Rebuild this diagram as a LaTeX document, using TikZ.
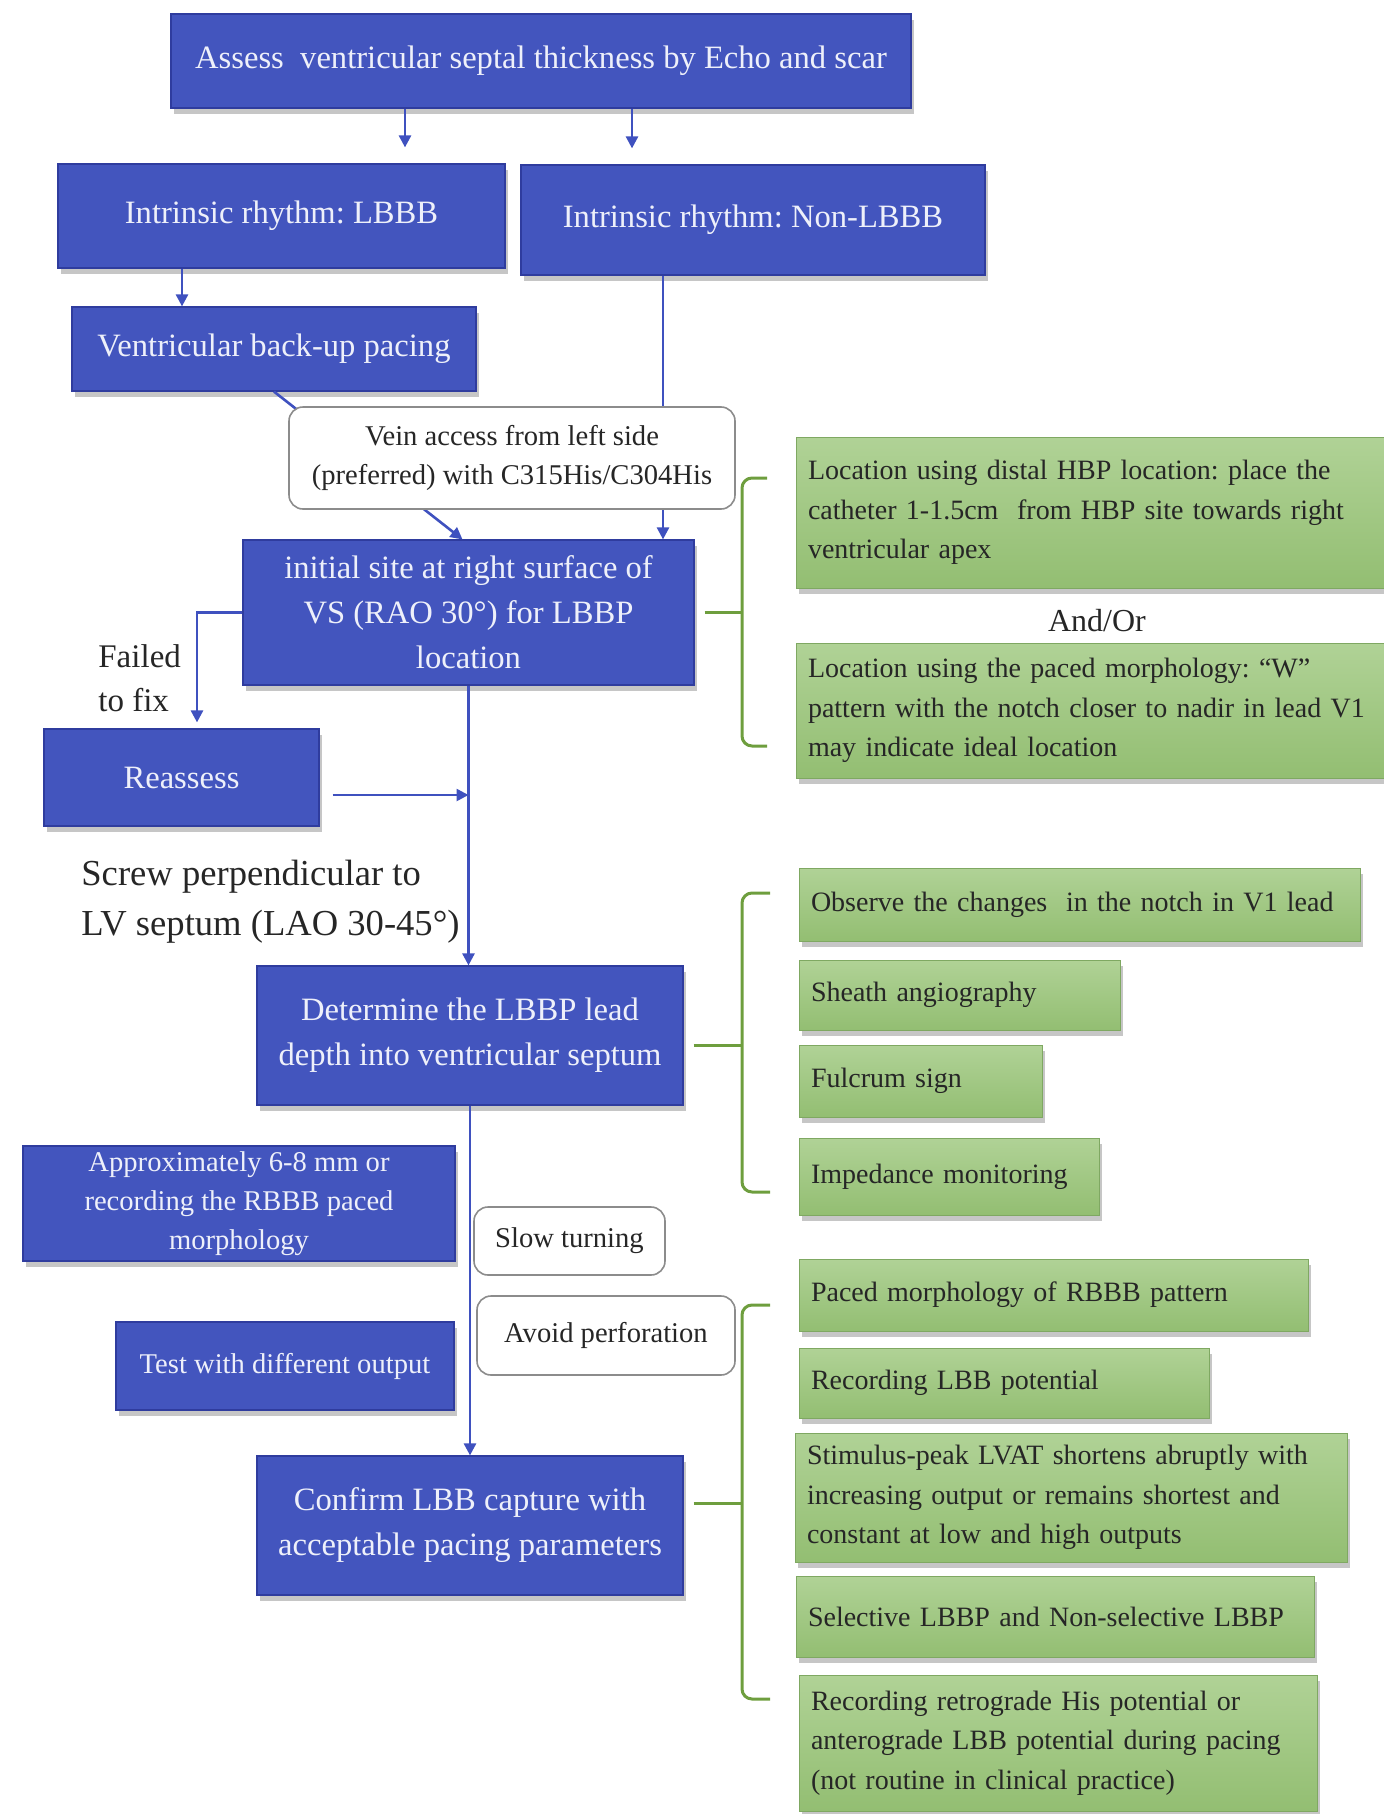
\documentclass[tikz,border=0pt]{standalone}
\usepackage{fontspec}
\setmainfont{Liberation Serif}
\frenchspacing
\usepackage{tikz}
\usetikzlibrary{calc,arrows.meta,positioning,shadows}
\definecolor{boxc}{HTML}{4355BE}
\definecolor{boxd}{HTML}{2F3C9E}
\definecolor{linec}{HTML}{3F51BF}
\definecolor{txtc}{HTML}{EEF0FA}
\definecolor{grnt}{HTML}{B0D296}
\definecolor{grnb}{HTML}{93BE72}
\definecolor{grnd}{HTML}{7FA862}
\definecolor{brc}{HTML}{6E9E3E}
\definecolor{wbd}{HTML}{8C8C8C}
\tikzset{
  ar/.style={-{Triangle[length=6pt,width=6pt]},line width=1.3pt,linec},
  br/.style={line width=1.5pt,brc},
  bx/.style={draw=boxd,line width=0.6pt,fill=boxc,text=txtc,align=center,inner sep=2pt,
    font=\fontsize{16.3}{22.5}\selectfont,
    drop shadow={shadow xshift=1.5pt,shadow yshift=-3pt,opacity=0.45}},
  wbx/.style={draw=wbd,line width=0.8pt,fill=white,rounded corners=7pt,align=center,inner sep=2pt,
    text=black!85,font=\fontsize{14.3}{19.7}\selectfont},
  gbx/.style={draw=grnd,line width=0.5pt,top color=grnt,bottom color=grnb,align=left,
    inner xsep=6pt,inner ysep=2pt,text=black!85,font=\fontsize{14}{19.7}\selectfont,
    drop shadow={shadow xshift=1.5pt,shadow yshift=-3pt,opacity=0.45}},
  lbl/.style={align=left,inner sep=0pt,text=black!85}
}
\begin{document}
\begin{tikzpicture}[x=0.5pt,y=-0.5pt]
\useasboundingbox (0,0) rectangle (1383,1814);
% main column
\node[bx,minimum width=370pt,minimum height=47pt] (assess) at (541,61) {Assess\ \ ventricular septal thickness by Echo and scar};
\node[bx,minimum width=223.5pt,minimum height=52pt] (lbbb) at (281.5,216) {Intrinsic rhythm: LBBB};
\node[bx,minimum width=232pt,minimum height=55pt] (nonlbbb) at (753,220) {Intrinsic rhythm: Non-LBBB};
\node[bx,minimum width=202pt,minimum height=42pt] (backup) at (274,349) {Ventricular back-up pacing};
\node[bx,minimum width=225.5pt,minimum height=72.5pt] (initial) at (468.5,612.5) {initial site at right surface of\\VS (RAO 30°) for LBBP\\location};
\node[bx,minimum width=137.5pt,minimum height=48.5pt] (reassess) at (181.5,777.5) {Reassess};
\node[bx,minimum width=213pt,minimum height=69.5pt] (determine) at (470,1035.5) {Determine the LBBP lead\\depth into ventricular septum};
\node[bx,minimum width=216pt,minimum height=57.5pt,font=\fontsize{14.3}{19.5}\selectfont] (approx) at (239,1203.5) {Approximately 6-8 mm or\\recording the RBBB paced\\morphology};
\node[bx,minimum width=169pt,minimum height=44pt,font=\fontsize{14.3}{19.5}\selectfont] (test) at (285,1366) {Test with different output};
\node[bx,minimum width=213pt,minimum height=69.5pt] (confirm) at (470,1525.5) {Confirm LBB capture with\\acceptable pacing parameters};
\node[wbx,minimum width=95.5pt,minimum height=34pt] (slow) at (569.5,1241) {Slow turning};
\node[wbx,minimum width=129pt,minimum height=39.5pt] (avoid) at (606,1335.5) {Avoid perforation};
% free labels
\node[lbl,font=\fontsize{16.5}{22}\selectfont,anchor=west] (fail) at (98,678) {Failed\\to fix};
\node[lbl,font=\fontsize{18.3}{25}\selectfont,anchor=west] (screw) at (81,902) {Screw perpendicular to\\LV septum (LAO 30-45°)};
% arrows
\coordinate (a1) at ([xshift=-68pt]assess.south);
\coordinate (a2) at ([xshift=45.5pt]assess.south);
\coordinate (a3) at ([xshift=-49.75pt]lbbb.south);
\coordinate (a4) at ([xshift=-45pt]nonlbbb.south);
\coordinate (r1) at ([xshift=6.5pt,yshift=-8.75pt]reassess.east);
\draw[ar,shorten >=8pt] (a1) -- (a1 |- lbbb.north);
\draw[ar,shorten >=8pt] (a2) -- (a2 |- nonlbbb.north);
\draw[ar] (a3) -- (a3 |- backup.north);
\draw[ar] (a4) -- (a4 |- initial.north);
\draw[ar] (backup.south) -- ([xshift=-3pt]initial.north);
\draw[ar,shorten >=3pt] (initial.west) -| ([xshift=7.75pt]reassess.north);
\draw[ar] (r1) -- (r1 -| initial.south);
\draw[ar] (initial.south) -- (initial.south |- determine.north);
\draw[ar] (determine.south) -- (confirm.north);
% vein box over the lines
\node[wbx,minimum width=223pt,minimum height=51pt] (vein) at (512,458) {Vein access from left side\\(preferred) with C315His/C304His};
% right column
\node[gbx,text width=288pt,minimum height=75.5pt] (hbp) at (1096,512.5) {Location using distal HBP location: place the\\catheter 1-1.5cm\ \ from HBP site towards right\\ventricular apex};
\node[lbl,font=\fontsize{16}{19}\selectfont] (andor) at (1097,621) {And/Or};
\node[gbx,text width=288pt,minimum height=67.5pt] (wpat) at (1096,710.5) {Location using the paced morphology: “W”\\pattern with the notch closer to nadir in lead V1\\may indicate ideal location};
\node[gbx,text width=268.5pt,minimum height=36.5pt] (notch) at (1079.5,904.5) {Observe the changes\ \ in the notch in V1 lead};
\node[gbx,text width=148.5pt,minimum height=35pt] (sheath) at (959.5,995) {Sheath angiography};
\node[gbx,text width=109.5pt,minimum height=36pt] (fulcrum) at (920.5,1081) {Fulcrum sign};
\node[gbx,text width=138pt,minimum height=38.5pt] (imped) at (949,1176.5) {Impedance monitoring};
\node[gbx,text width=242.5pt,minimum height=36pt] (rbbb) at (1053.5,1295) {Paced morphology of RBBB pattern};
\node[gbx,text width=193pt,minimum height=35pt] (lbbpot) at (1004,1383) {Recording LBB potential};
\node[gbx,text width=264pt,minimum height=64.5pt] (lvat) at (1071,1497.5) {Stimulus-peak LVAT shortens abruptly with\\increasing output or remains shortest and\\constant at low and high outputs};
\node[gbx,text width=247pt,minimum height=40.5pt] (selec) at (1055,1616.5) {Selective LBBP and Non-selective LBBP};
\node[gbx,text width=247pt,minimum height=68pt] (retro) at (1058,1743) {Recording retrograde His potential or\\anterograde LBB potential during pacing\\(not routine in clinical practice)};
% brackets
\coordinate (s1) at ([xshift=5pt]initial.east);
\coordinate (s2) at ([xshift=5pt,yshift=-4.75pt]determine.east);
\coordinate (s3) at ([xshift=5pt,yshift=11.25pt]confirm.east);
\coordinate (m1) at (742,0);
\draw[br] (s1) -- (s1 -| m1);
\draw[br] (s2) -- (s2 -| m1);
\draw[br] (s3) -- (s3 -| m1);
\draw[br,rounded corners=5pt] (767,478) -- (742,478) -- (742,746) -- (767,746);
\draw[br,rounded corners=5pt] (770,893) -- (742,893) -- (742,1192) -- (770,1192);
\draw[br,rounded corners=5pt] (770,1305) -- (742,1305) -- (742,1699) -- (770,1699);
\end{tikzpicture}
\end{document}
